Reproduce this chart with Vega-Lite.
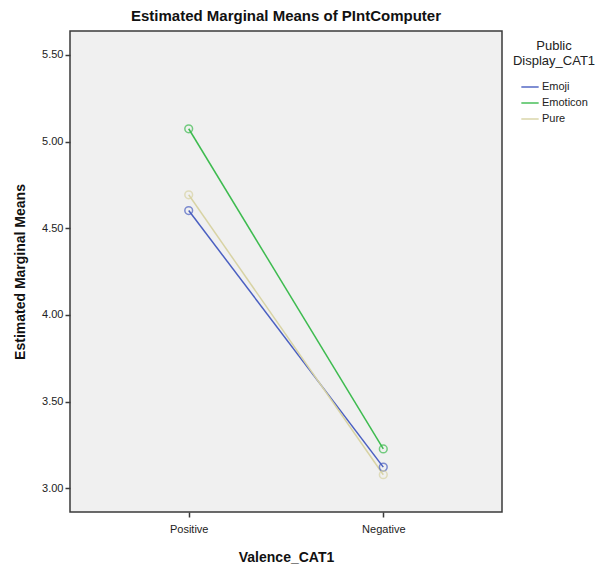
{
  "$schema": "https://vega.github.io/schema/vega-lite/v6.json",
  "width": 432,
  "height": 481,
  "autosize": {"type": "none"},
  "padding": {"left": 70, "top": 31, "right": 94, "bottom": 57},
  "background": "white",
  "config": {
    "font": "Liberation Sans",
    "view": {"fill": "#f0f0f0", "stroke": "#3a3a3a", "strokeWidth": 1.5},
    "axis": {"grid": false, "domain": false, "tickColor": "#3a3a3a", "tickSize": 5, "tickWidth": 1.5, "labelColor": "#222", "labelFontSize": 11, "titleFontSize": 14, "titleFontWeight": "bold", "titleColor": "#111"}
  },
  "title": {"text": "Estimated Marginal Means of PIntComputer", "fontSize": 15, "fontWeight": "bold", "color": "#111", "anchor": "middle", "offset": 7},
  "data": {"values": [
    {"Valence_CAT1": "Positive", "Display": "Emoji", "mean": 4.602},
    {"Valence_CAT1": "Negative", "Display": "Emoji", "mean": 3.122},
    {"Valence_CAT1": "Positive", "Display": "Emoticon", "mean": 5.074},
    {"Valence_CAT1": "Negative", "Display": "Emoticon", "mean": 3.227},
    {"Valence_CAT1": "Positive", "Display": "Pure", "mean": 4.693},
    {"Valence_CAT1": "Negative", "Display": "Pure", "mean": 3.078}
  ]},
  "encoding": {
    "x": {"field": "Valence_CAT1", "type": "nominal", "sort": ["Positive", "Negative"],
          "scale": {"type": "point", "padding": 0.61},
          "axis": {"labelAngle": 0, "labelPadding": 6, "titlePadding": 16, "title": "Valence_CAT1"}},
    "y": {"field": "mean", "type": "quantitative",
          "scale": {"domain": [2.863, 5.638], "nice": false, "zero": false},
          "axis": {"values": [3.0, 3.5, 4.0, 4.5, 5.0, 5.5], "format": ".2f", "title": "Estimated Marginal Means", "titlePadding": 14, "labelPadding": 2}},
    "color": {"field": "Display", "type": "nominal",
              "scale": {"domain": ["Emoji", "Emoticon", "Pure"], "range": ["#4a5fc1", "#3dbb4f", "#d8d3a4"]},
              "legend": {"title": ["Public", "Display_CAT1"], "orient": "none", "legendX": 443, "legendY": 9,
                         "titleFontSize": 13, "titleFontWeight": "normal", "titleColor": "#222", "titleAlign": "center", "titleAnchor": "middle",
                         "labelFontSize": 11, "labelColor": "#222", "symbolType": "stroke", "symbolSize": 300, "symbolStrokeWidth": 2,
                         "rowPadding": 1, "labelOffset": 2, "titlePadding": 9}}
  },
  "layer": [
    {"mark": {"type": "line", "strokeWidth": 1.5}, "encoding": {"detail": {"field": "Display"}}},
    {"mark": {"type": "point", "shape": "circle", "size": 60, "strokeWidth": 1.5, "filled": false}}
  ]
}
